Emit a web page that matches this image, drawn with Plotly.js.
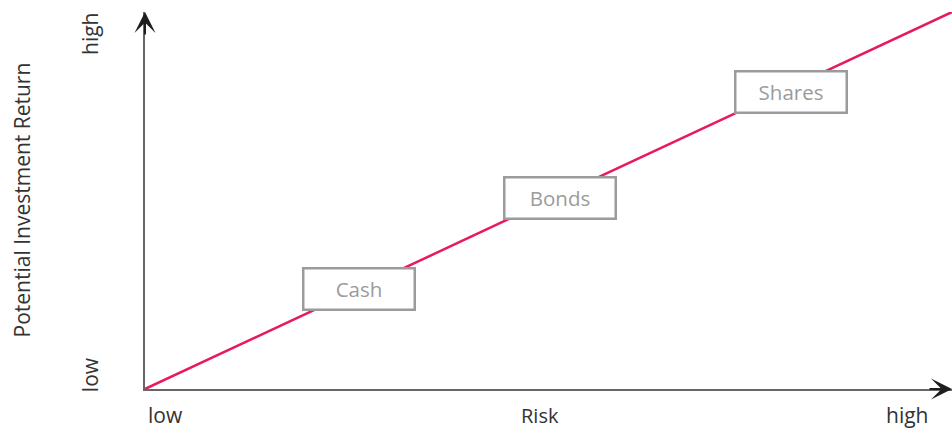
<!DOCTYPE html>
<html>
<head>
<meta charset="utf-8">
<script src="https://cdn.plot.ly/plotly-3.0.1.min.js"></script>
<style>
  html, body { margin: 0; padding: 0; background: #ffffff; }
  #chart { width: 952px; height: 430px; }
</style>
</head>
<body>
<div id="chart"></div>
<script>
// Risk / return trade-off line (normalised scale: 0 = low, 1 = high)
const riskLevels = [0, 1];
const returnLevels = [0, 1];

// Asset classes placed along the line
const assetClasses = ['Cash', 'Bonds', 'Shares'];
const assetRisk = [0.265, 0.514, 0.800];
const assetReturn = [0.265, 0.507, 0.788];

// Axis labels
const xAxisName = 'Risk';
const yAxisName = 'Potential Investment Return';
const lowLabel = 'low';
const highLabel = 'high';

const FONT = '"Open Sans", "Noto Sans", "DejaVu Sans", sans-serif';
const labelColor = '#333333';
const boxColor = '#9b9b9b';

const trace = {
  x: riskLevels,
  y: returnLevels,
  type: 'scatter',
  mode: 'lines',
  line: { color: '#e8195f', width: 2.5 },
  hoverinfo: 'skip',
  showlegend: false
};

const annotations = [];

// Asset class boxes
assetClasses.forEach((name, i) => {
  annotations.push({
    x: assetRisk[i], y: assetReturn[i], xref: 'x', yref: 'y',
    text: name, showarrow: false,
    font: { family: FONT, size: 20.5, color: boxColor },
    bgcolor: '#ffffff', bordercolor: boxColor, borderwidth: 2.5,
    borderpad: 1, width: 107, height: 37,
    xanchor: 'center', yanchor: 'middle', align: 'center', valign: 'middle'
  });
});

// Arrow heads
annotations.push({
  x: 0, y: 1, xref: 'x', yref: 'y', text: '', showarrow: true,
  ax: 0, ay: 24, arrowhead: 3, arrowsize: 1.75, arrowwidth: 2, arrowcolor: '#1e1e1e'
});
annotations.push({
  x: 1, y: 0, xref: 'x', yref: 'y', text: '', showarrow: true,
  ax: -24, ay: 0, arrowhead: 3, arrowsize: 1.75, arrowwidth: 2, arrowcolor: '#1e1e1e'
});

// x-axis labels
annotations.push({
  x: 0.001, y: -0.069, xref: 'paper', yref: 'paper', text: lowLabel, showarrow: false,
  xanchor: 'left', yanchor: 'middle', font: { family: FONT, size: 21, color: labelColor }
});
annotations.push({
  x: 0.489, y: -0.069, xref: 'paper', yref: 'paper', text: xAxisName, showarrow: false,
  xanchor: 'center', yanchor: 'middle', font: { family: FONT, size: 20, color: labelColor }
});
annotations.push({
  x: 0.973, y: -0.069, xref: 'paper', yref: 'paper', text: highLabel, showarrow: false,
  xanchor: 'right', yanchor: 'middle', font: { family: FONT, size: 21, color: labelColor }
});

// y-axis labels (rotated)
annotations.push({
  x: -0.068, y: 0.037, xref: 'paper', yref: 'paper', text: lowLabel, showarrow: false,
  textangle: -90, xanchor: 'center', yanchor: 'middle',
  font: { family: FONT, size: 21, color: labelColor }
});
annotations.push({
  x: -0.068, y: 0.942, xref: 'paper', yref: 'paper', text: highLabel, showarrow: false,
  textangle: -90, xanchor: 'center', yanchor: 'middle',
  font: { family: FONT, size: 21, color: labelColor }
});
annotations.push({
  x: -0.152, y: 0.501, xref: 'paper', yref: 'paper', text: yAxisName, showarrow: false,
  textangle: -90, xanchor: 'center', yanchor: 'middle',
  font: { family: FONT, size: 21, color: labelColor }
});

const layout = {
  width: 952,
  height: 430,
  margin: { l: 145, r: 0, t: 12, b: 41, pad: 0 },
  paper_bgcolor: '#ffffff',
  plot_bgcolor: '#ffffff',
  showlegend: false,
  xaxis: {
    range: [0, 1], showgrid: false, zeroline: false, showticklabels: false, ticks: '',
    showline: true, linecolor: '#666666', linewidth: 2, fixedrange: true
  },
  yaxis: {
    range: [0, 1], showgrid: false, zeroline: false, showticklabels: false, ticks: '',
    showline: true, linecolor: '#666666', linewidth: 2, fixedrange: true
  },
  annotations: annotations
};

Plotly.newPlot('chart', [trace], layout, { displayModeBar: false, staticPlot: true });
</script>
</body>
</html>
